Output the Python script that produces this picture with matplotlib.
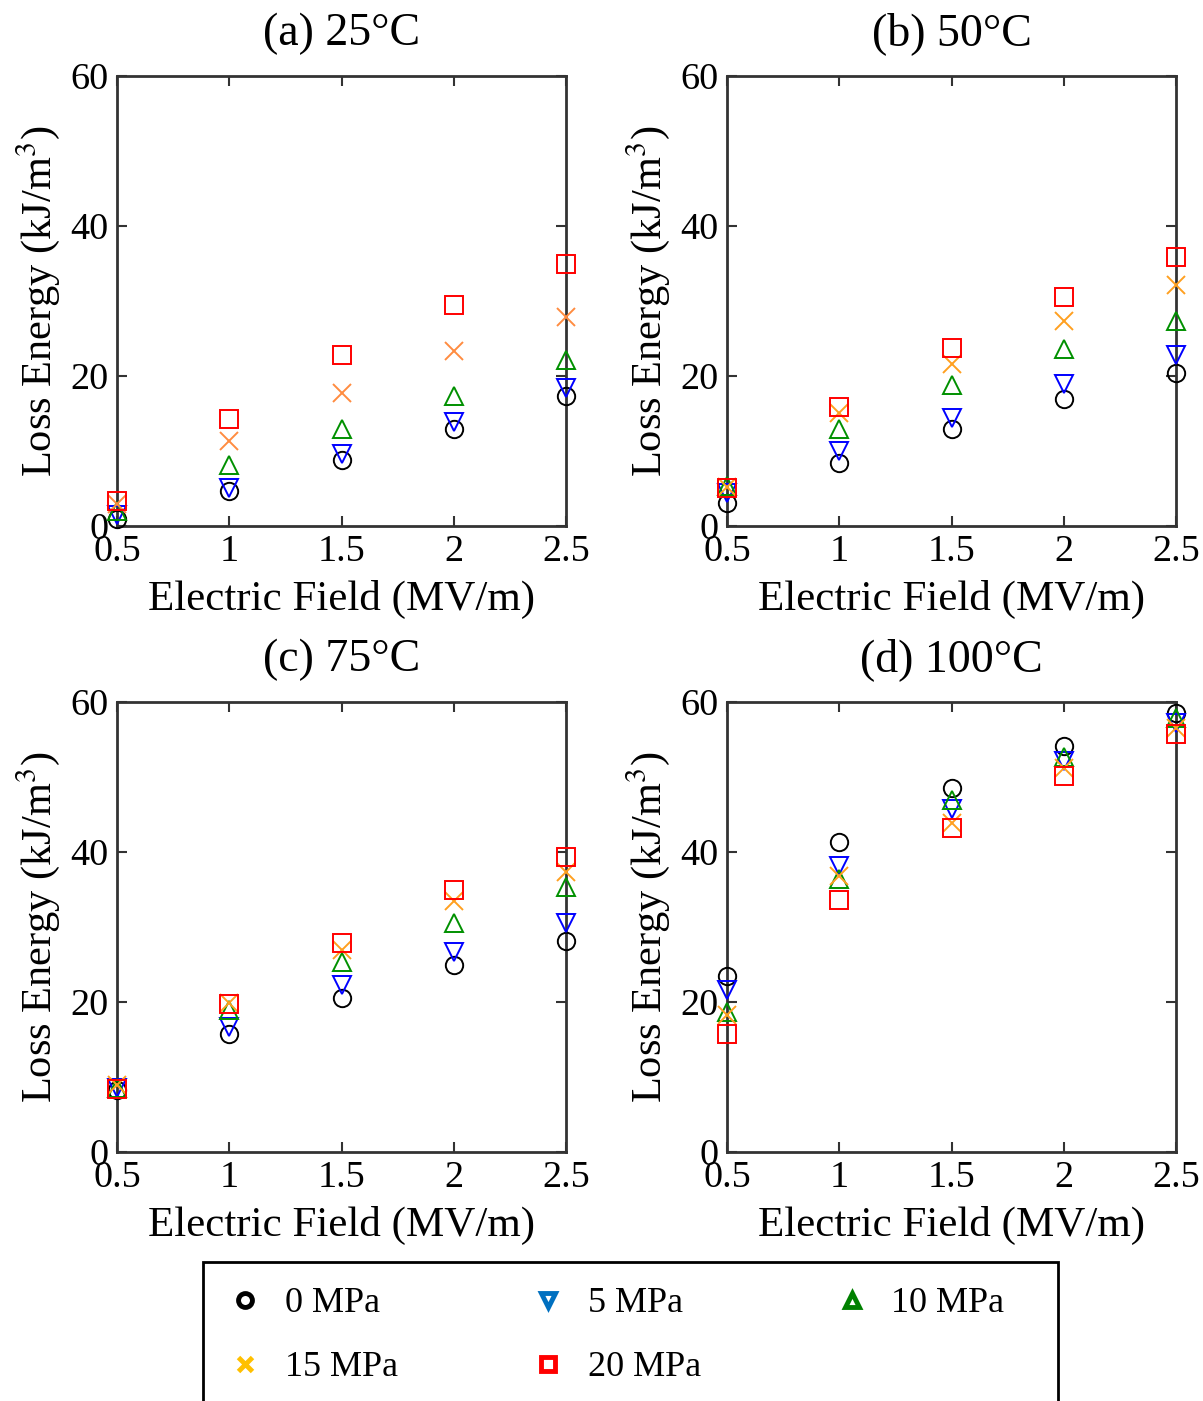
import numpy as np
import matplotlib
matplotlib.use("Agg")
import matplotlib.pyplot as plt
from matplotlib.lines import Line2D
from matplotlib.patches import Rectangle

# --- data ---
field = [0.5, 1.0, 1.5, 2.0, 2.5]
pressures = ["0 MPa", "5 MPa", "10 MPa", "15 MPa", "20 MPa"]
titles = ["(a) 25°C", "(b) 50°C", "(c) 75°C", "(d) 100°C"]

# (a) 25 C
a_0 = [1.0, 4.7, 8.8, 13.0, 17.3]
a_5 = [1.5, 5.1, 9.6, 13.9, 18.4]
a_10 = [2.0, 8.2, 12.9, 17.4, 22.1]
a_15 = [3.0, 11.3, 17.8, 23.3, 27.9]
a_20 = [3.4, 14.3, 22.8, 29.5, 35.0]
# (b) 50 C
b_0 = [3.1, 8.4, 13.0, 16.9, 20.4]
b_5 = [4.4, 10.0, 14.4, 19.0, 22.8]
b_10 = [5.3, 12.9, 18.8, 23.6, 27.4]
b_15 = [5.2, 15.1, 21.6, 27.3, 32.1]
b_20 = [5.1, 15.9, 23.7, 30.6, 35.9]
# (c) 75 C
c_0 = [8.3, 15.7, 20.5, 25.0, 28.2]
c_5 = [8.6, 16.7, 22.3, 26.7, 30.5]
c_10 = [8.5, 19.0, 25.3, 30.6, 35.3]
c_15 = [9.0, 19.9, 26.9, 33.5, 37.4]
c_20 = [8.4, 19.8, 27.9, 34.9, 39.4]
# (d) 100 C
d_0 = [23.5, 41.3, 48.5, 54.2, 58.6]
d_5 = [21.6, 38.1, 45.8, 52.1, 57.2]
d_10 = [18.7, 36.4, 47.0, 52.7, 57.9]
d_15 = [18.3, 36.8, 43.9, 51.2, 56.5]
d_20 = [15.8, 33.6, 43.2, 50.1, 55.7]

panels = [
    [a_0, a_5, a_10, a_15, a_20],
    [b_0, b_5, b_10, b_15, b_20],
    [c_0, c_5, c_10, c_15, c_20],
    [d_0, d_5, d_10, d_15, d_20],
]

markers = ["o", "v", "^", "x", "s"]
plot_colors = ["black", "#0000ff", "#009000", "#ffa020", "#ff0000"]
x_color_a = "#ff8c40"
legend_colors = ["black", "#0070c0", "#008000", "#ffc000", "#ff0000"]

plt.rcParams["font.family"] = ["Liberation Serif", "DejaVu Serif"]
plt.rcParams["mathtext.fontset"] = "stix"

W, H = 1203, 1401
fig = plt.figure(figsize=(W / 100, H / 100), dpi=100)

# axes boxes in pixels: left, top
boxes = [(117, 76), (727, 76), (117, 702), (727, 702)]
aw, ah = 449, 450

for i, (left, top) in enumerate(boxes):
    ax = fig.add_axes([left / W, 1 - (top + ah) / H, aw / W, ah / H])
    for j, ys in enumerate(panels[i]):
        col = plot_colors[j]
        if i == 0 and j == 3:
            col = x_color_a
        ax.plot(field, ys, linestyle="none", marker=markers[j], ms=12.5,
                mfc="none", mec=col, mew=1.4, clip_on=False, zorder=3 + j)
    ax.set_xlim(0.5, 2.5)
    ax.set_ylim(0, 60)
    ax.set_xticks(field)
    ax.set_xticklabels(["0.5", "1", "1.5", "2", "2.5"])
    ax.set_yticks([0, 20, 40, 60])
    ax.tick_params(direction="in", length=7, width=1.5, top=True, right=True,
                   labelsize=27.5, pad=6, color="#333333")
    for s in ax.spines.values():
        s.set_linewidth(2)
        s.set_color("#333333")
    ax.set_title(titles[i], fontsize=33, pad=22)
    ax.set_xlabel("Electric Field (MV/m)", fontsize=31, labelpad=8)
    ax.set_ylabel("Loss Energy (kJ/m$^3$)", fontsize=30.5, labelpad=6)

handles = []
order = [0, 3, 1, 4, 2]
for j in order:
    handles.append(Line2D([], [], linestyle="none", marker=markers[j], ms=10,
                          mfc="none", mec=legend_colors[j], mew=3.5,
                          label=pressures[j]))

# legend box runs past the bottom edge, as in the source figure
fig.add_artist(Rectangle((203 / W, -0.05), 855 / W, 0.05 + 1 - 1262 / H,
                         transform=fig.transFigure, fill=False,
                         lw=2, ec="black"))
leg = fig.legend(handles=handles, loc="upper left", ncol=3,
                 bbox_to_anchor=(230.5 / W, 1 - 1287 / H),
                 fontsize=26, frameon=False, borderpad=0,
                 labelspacing=0.85, handletextpad=0.7, handlelength=0.8,
                 columnspacing=3.77, borderaxespad=0)

fig.savefig("out.png", dpi=100)
